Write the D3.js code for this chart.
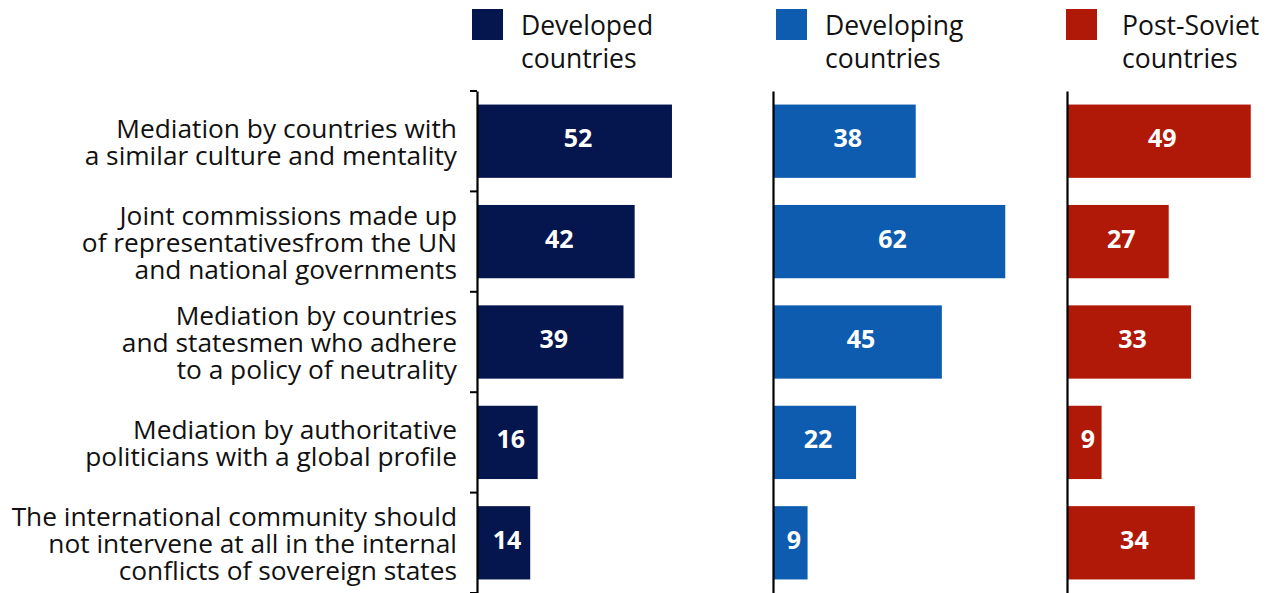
<!DOCTYPE html>
<html>
<head>
<meta charset="utf-8">
<script src="https://cdn.jsdelivr.net/npm/d3@7"></script>
<style>
  html, body { margin: 0; padding: 0; background: #fff; }
  svg { display: block; }
  text { font-family: "Open Sans", "Noto Sans", sans-serif; }
</style>
</head>
<body>
<svg id="chart" width="1272" height="593"></svg>
<script>
// Approaches to settling internal conflicts, share of respondents (%)
const categories = [
  "Mediation by countries with\na similar culture and mentality",
  "Joint commissions made up\nof representativesfrom the UN\nand national governments",
  "Mediation by countries\nand statesmen who adhere\nto a policy of neutrality",
  "Mediation by authoritative\npoliticians with a global profile",
  "The international community should\nnot intervene at all in the internal\nconflicts of sovereign states"
];
const seriesNames = ["Developed\ncountries", "Developing\ncountries", "Post-Soviet\ncountries"];
const developed  = [52, 42, 39, 16, 14];
const developing = [38, 62, 45, 22, 9];
const postSoviet = [49, 27, 33, 9, 34];

const seriesValues = [developed, developing, postSoviet];
const colors = ["#05154e", "#0e5caf", "#b01808"];

const svg = d3.select("#chart");

// shared vertical band scale for the five approaches
const y = d3.scaleBand()
  .domain(d3.range(categories.length))
  .range([91, 593])
  .paddingInner(0.27)
  .paddingOuter(0.135);

// shared value scale (percent -> pixel length)
const x = d3.scaleLinear().domain([0, 100]).range([0, 373]);

const panelX = [478, 774, 1068];
const legendBoxX = [472, 776, 1066];
const legendTextX = [521, 825, 1122];

// category labels, right aligned to the left of the first panel
const catG = svg.append("g");
categories.forEach((c, i) => {
  const lines = c.split("\n");
  const mid = y(i) + y.bandwidth() / 2;
  const gap = 27;
  const first = mid + 10 - (lines.length - 1) * gap / 2;
  const t = catG.append("text")
    .attr("text-anchor", "end")
    .attr("font-size", 26.3)
    .attr("fill", "#111");
  lines.forEach((ln, k) => {
    t.append("tspan").attr("x", 457).attr("y", first + k * gap).text(ln);
  });
});

seriesValues.forEach((vals, s) => {
  const g = svg.append("g").attr("transform", `translate(${panelX[s]},0)`);

  // bars
  g.selectAll("rect.bar")
    .data(vals)
    .join("rect")
    .attr("class", "bar")
    .attr("x", 0)
    .attr("y", (d, i) => y(i))
    .attr("width", d => x(d))
    .attr("height", y.bandwidth())
    .attr("fill", colors[s]);

  // value labels inside bars
  g.selectAll("text.val")
    .data(vals)
    .join("text")
    .attr("class", "val")
    .attr("x", d => x(d) / 2 + 3)
    .attr("y", (d, i) => y(i) + y.bandwidth() / 2 + 6)
    .attr("text-anchor", "middle")
    .attr("font-size", 25)
    .attr("font-weight", 700)
    .attr("fill", "#fff")
    .text(d => d);

  // vertical axis line (ticks only on the first panel)
  const axis = d3.axisLeft(d3.scaleLinear().range([91, 593]))
    .tickValues([])
    .tickSizeOuter(0);
  const ag = g.append("g").attr("transform", "translate(-1,0)").call(axis);
  ag.select(".domain").attr("stroke", "#000").attr("stroke-width", 2.2);
  if (s === 0) {
    const bounds = d3.range(categories.length + 1).map(i => 91 + i * y.step());
    ag.selectAll("line.tk")
      .data(bounds)
      .join("line")
      .attr("class", "tk")
      .attr("x1", -7).attr("x2", 0)
      .attr("y1", d => d).attr("y2", d => d)
      .attr("stroke", "#000").attr("stroke-width", 2);
  }

  // legend
  svg.append("rect")
    .attr("x", legendBoxX[s]).attr("y", 9)
    .attr("width", 31).attr("height", 31)
    .attr("fill", colors[s]);
  const lt = svg.append("text").attr("font-size", 26.5).attr("fill", "#111");
  seriesNames[s].split("\n").forEach((ln, k) => {
    lt.append("tspan").attr("x", legendTextX[s]).attr("y", 35 + k * 33).text(ln);
  });
});
</script>
</body>
</html>
